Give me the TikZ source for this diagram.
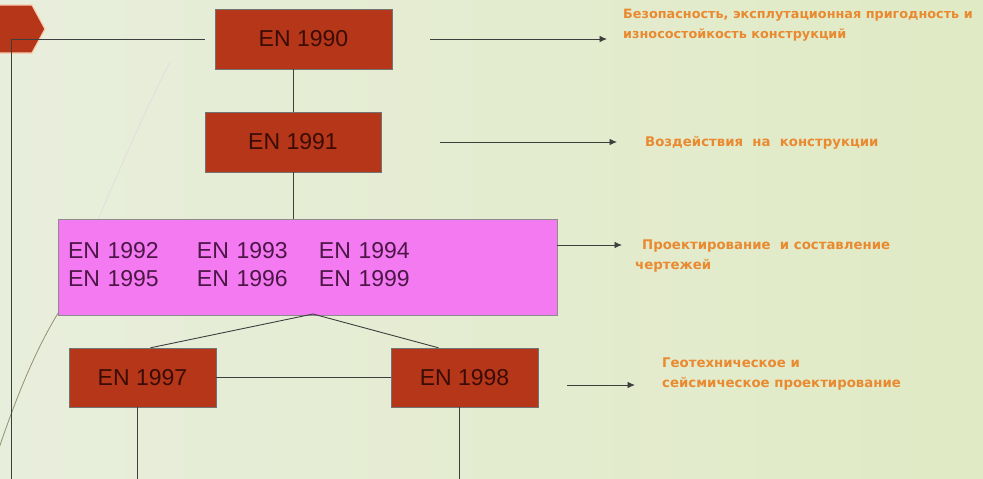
\documentclass[tikz,border=0pt]{standalone}
\usepackage{fontspec}
\newfontfamily\arialfont{Liberation Sans}
\newfontfamily\notefont{DejaVu Sans}
\usetikzlibrary{positioning,arrows.meta}
\definecolor{brick}{RGB}{181,54,24}
\definecolor{brickink}{RGB}{58,12,6}
\definecolor{pinkfill}{RGB}{244,122,242}
\definecolor{pinkink}{RGB}{76,22,70}
\definecolor{notecol}{RGB}{234,138,48}
\definecolor{wirecol}{RGB}{62,62,62}
\definecolor{peach}{RGB}{250,205,175}
\definecolor{bgleft}{RGB}{232,238,220}
\definecolor{bgmid}{RGB}{250,251,245}
\definecolor{bgright}{RGB}{224,234,196}

\begin{document}
\begin{tikzpicture}[x=1pt, y=-1pt,
				enbox/.style={rectangle, draw=black!55, fill=brick, text=brickink, font=\arialfont\fontsize{23}{28}\selectfont, minimum width=177pt, minimum height=60pt, inner sep=0pt},
				grpbox/.style={rectangle, draw=black!45, fill=pinkfill, text=pinkink, font=\arialfont\fontsize{23}{28}\selectfont, minimum width=499pt, minimum height=96pt, text width=479pt, inner xsep=10pt, inner ysep=0pt, align=left},
				note/.style={text=notecol, font=\notefont\bfseries\fontsize{13.3}{19.5}\selectfont, align=left, inner sep=0pt, anchor=west},
				wire/.style={draw=wirecol, line width=0.9pt},
				arr/.style={wire, -{Latex[length=7.5pt, width=6.5pt]}}
			]
			\useasboundingbox (0,0) rectangle (983,479);
			\shade[left color=bgleft, middle color=bgmid, right color=bgright] (0,0) rectangle (983,479);
			% decorative curve of the slide
			\draw[olive!50!black, opacity=.6, line width=.8pt] (-5,460) .. controls (15,400) and (35,350) .. (60,310);
			\draw[black!12, line width=.8pt] (60,310) .. controls (90,240) and (130,140) .. (170,62);
			\filldraw[fill=brick, draw=peach, line width=1.2pt] (-2,5) -- (32,5) -- (45,29) -- (32,53) -- (-2,53) -- cycle;
			\node[enbox] (e1990) at (303.5,39) {EN 1990};
			\node[enbox, minimum width=176pt] (e1991) at (293,142) {EN 1991};
			\node[grpbox] (grp) at (307.5,267) {\begin{tabular}{@{}p{129pt}@{}p{122pt}@{}l@{}}
				EN 1992 & EN 1993 & EN 1994\\
				EN 1995 & EN 1996 & EN 1999
				\end{tabular}};
			\node[enbox, minimum width=147pt, minimum height=59pt] (e1997) at (142.5,377.5) {EN 1997};
			\node[enbox, minimum width=147pt, minimum height=59pt] (e1998) at (464.5,377.5) {EN 1998};
			\node[note, font=\notefont\bfseries\fontsize{12.8}{19.5}\selectfont] (n1990) at (623,25) {Безопасность, эксплутационная пригодность и\\износостойкость конструкций};
			\node[note] (n1991) at (645,143) {Воздействия~~на~~конструкции};
			\node[note] (ngrp) at (635,256) {\hspace*{7pt}Проектирование~~и составление\\чертежей};
			\node[note] (n1998) at (662,374) {Геотехническое и\\сейсмическое проектирование};
			\coordinate (corner) at (11,39);
			\coordinate (leftfoot) at (11,479);
			\coordinate (apex) at (313,314);
			\coordinate (foot1997) at (137,479);
			\coordinate (foot1998) at (459,479);
			\coordinate (gport) at ([yshift=22pt]grp.east);
			\coordinate (port1998) at ([yshift=-7.5pt]e1998.east);
			\draw[wire] (leftfoot) -- (corner);
			\draw[wire, shorten >=10pt] (corner) -- (e1990.west);
			\draw[wire] (e1990.south -| e1991.north) -- (e1991.north);
			\draw[wire] (e1991.south) -- (e1991.south |- grp.north);
			\draw[wire] ([xshift=8pt]e1997.north) -- (apex) -- ([xshift=-26pt]e1998.north);
			\draw[wire] (e1997.east) -- (e1998.west);
			\draw[wire] (foot1997 |- e1997.south) -- (foot1997);
			\draw[wire] (foot1998 |- e1998.south) -- (foot1998);
			\begin{scope}[arr]
			\draw[shorten <=38pt, shorten >=16pt] (e1990.east) -- (e1990.east -| n1990.west);
			\draw[shorten <=59pt, shorten >=28pt] (e1991.east) -- (e1991.east -| n1991.west);
			\draw[shorten >=13pt] (gport) -- (gport -| ngrp.west);
			\draw[shorten <=29pt, shorten >=27pt] (port1998) -- (port1998 -| n1998.west);
			\end{scope}
\end{tikzpicture}
\end{document}
